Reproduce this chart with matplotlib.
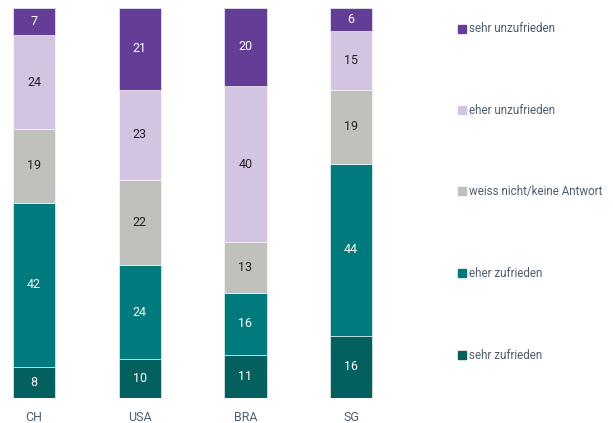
import numpy as np
import matplotlib.pyplot as plt

plt.rcParams['font.family'] = ['Roboto', 'DejaVu Sans']

# Länder und Anteile in Prozent (von unten nach oben gestapelt)
laender = ['CH', 'USA', 'BRA', 'SG']
kategorien = ['sehr zufrieden', 'eher zufrieden', 'weiss nicht/keine Antwort',
              'eher unzufrieden', 'sehr unzufrieden']
sehr_zufrieden = [8, 10, 11, 16]
eher_zufrieden = [42, 24, 16, 44]
weiss_nicht = [19, 22, 13, 19]
eher_unzufrieden = [24, 23, 40, 15]
sehr_unzufrieden = [7, 21, 20, 6]

serien = [sehr_zufrieden, eher_zufrieden, weiss_nicht, eher_unzufrieden, sehr_unzufrieden]
farben = ['#03605f', '#007a7d', '#c0c0bc', '#d3c5e1', '#633d96']
textfarben = ['white', 'white', '#222222', '#222222', 'white']
textgrau = '#4f5d6b'

fig = plt.figure(figsize=(6.13, 4.23), dpi=100)
ax = fig.add_axes([0, 25 / 423, 1, 390 / 423])

x = np.arange(len(laender))
unten = np.zeros(len(laender))
for werte, farbe, tf, name in zip(serien, farben, textfarben, kategorien):
    werte = np.array(werte, dtype=float)
    ax.bar(x, werte, width=0.4, bottom=unten, color=farbe, edgecolor='white',
           linewidth=0.4, label=name)
    for xi, b, v in zip(x, unten, werte):
        ax.text(xi, b + v / 2, f'{int(v)}', ha='center', va='center',
                color=tf, fontsize=9)
    unten += werte

ax.set_xlim(-34 / 105.7, (613 - 34) / 105.7)
ax.set_ylim(0, 100)
ax.set_xticks(x)
ax.set_xticklabels(laender, fontsize=9, color=textgrau)
ax.tick_params(axis='x', length=0, pad=9)
ax.set_yticks([])
for s in ax.spines.values():
    s.set_visible(False)

# Legende rechts, von oben nach unten
zeilen_y = [29, 110, 191, 273, 355]
for (name, farbe), yp in zip(list(zip(kategorien, farben))[::-1], zeilen_y):
    fy = 1 - yp / 423
    fig.patches.append(plt.Rectangle((458 / 613, fy - 4 / 423), 8 / 613, 8 / 423,
                                     transform=fig.transFigure, color=farbe))
    fig.text(469 / 613, fy, name, ha='left', va='center', fontsize=8.4, color=textgrau)

fig.savefig('out.png', dpi=100)
